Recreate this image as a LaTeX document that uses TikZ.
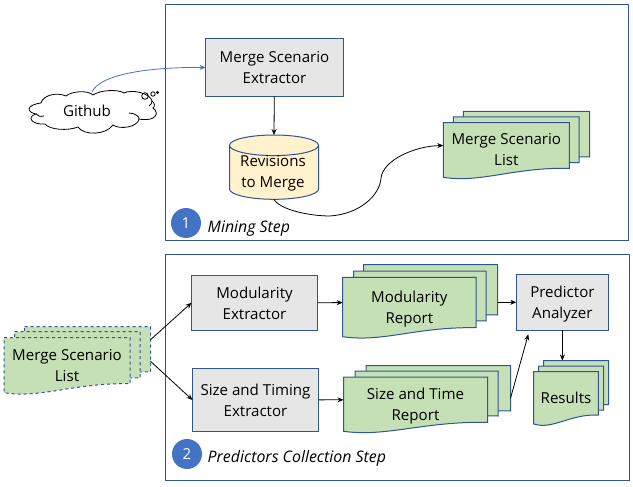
\documentclass[tikz,border=0pt]{standalone}
\usepackage{fontspec}
\setmainfont{Open Sans}
\usetikzlibrary{arrows.meta,fit}
\definecolor{frameblue}{HTML}{2F5597}
\definecolor{tipblue}{HTML}{4472C4}
\definecolor{sheetgreen}{HTML}{C5E0B4}
\definecolor{boxgrey}{HTML}{E6E6E6}
\definecolor{dbcream}{HTML}{FFF2CC}
\tikzset{
  stepframe/.style={draw=frameblue,line width=1pt},
  toolbox/.style={draw=frameblue,fill=boxgrey,line width=1pt,inner sep=0pt,outer sep=0pt},
  sheet/.style={draw=frameblue,fill=sheetgreen,line width=1pt},
  dashsheet/.style={sheet,dashed},
  sheetbox/.style={inner sep=0pt,outer sep=0pt},
  boxtext/.style={align=center,inner sep=0pt},
  stepnum/.style={circle,fill=tipblue,text=white,minimum size=30pt,inner sep=0pt},
  steplabel/.style={font=\fontsize{15.9}{19}\selectfont\itshape,anchor=west,inner sep=0pt},
  arr/.style={-{Stealth[length=6pt,width=5pt]},line width=.8pt},
  cloudline/.style={line width=.8pt},
}
% name, left, top, right, bottom (right end), style
\newcommand{\docsheet}[6]{
  \path[#6] (#2,#3) -- (#4,#3) -- (#4,#5)
    .. controls ({#2+.55*(#4-#2)},#5-1) and ({#2+.3*(#4-#2)},#5+15) .. (#2,#5+9) -- cycle;
  \node[sheetbox,fit={(#2,#3) (#4,#5)}] (#1) {};
}
\begin{document}
\begin{tikzpicture}[x=1pt,y=-1pt,font=\fontsize{15.1}{21}\selectfont]
  \useasboundingbox (0,0) rectangle (633,487);
  % step frames
  \draw[stepframe] (165.5,4.7) rectangle (628.5,240);
  \draw[stepframe] (165.5,254.5) rectangle (629,480);

  % cloud
  \draw[fill=white,cloudline] (41,103)
    .. controls (43,95) and (57,92) .. (66,96)
    .. controls (72,91) and (88,90) .. (93,95)
    .. controls (100,90) and (118,89) .. (124,93)
    .. controls (132,89) and (150,93) .. (152,101)
    .. controls (155,103) and (155,107) .. (153,108)
    .. controls (160,113) and (156,122) .. (139,119)
    .. controls (138,127) and (120,130) .. (113,125)
    .. controls (106,135) and (84,136) .. (78,127)
    .. controls (68,131) and (50,130) .. (45,124)
    .. controls (32,125) and (26,117) .. (36,114)
    .. controls (26,112) and (26,105) .. (41,103) -- cycle;
  \draw[cloudline] (36,114) .. controls (38,116) and (40,117) .. (44,116);
  \draw[cloudline] (139,119) .. controls (140,117) and (135,113) .. (129,113);
  \draw[cloudline] (152,101) .. controls (152,103) and (151,105) .. (149,106);
  \node[boxtext] (github) at (87,110.5) {Github};
  \draw[cloudline] (145,96) circle (3.3);
  \draw[cloudline] (153,94) circle (2.2);
  \draw[cloudline] (157.5,92.5) circle (1);

  % mining step
  \node[toolbox,fit={(205.5,38.5) (343.5,96.5)}] (scenarioext) {};
  \node[boxtext] (scenarioexttext) at (scenarioext) {Merge Scenario\\Extractor};
  \draw[draw=frameblue,fill=dbcream,line width=1pt] (229.5,145.3) -- (229.5,189)
    arc[start angle=180,end angle=360,x radius=44.5,y radius=-10.3] -- (318.5,145.3)
    arc[start angle=0,end angle=180,x radius=44.5,y radius=-10.3]
    arc[start angle=180,end angle=360,x radius=44.5,y radius=-10.3];
  \node[sheetbox,fit={(229.5,135) (318.5,199.3)}] (revisions) {};
  \node[boxtext] (revisionstext) at (273,173.5) {Revisions\\to Merge};
  \docsheet{listb}{463.3}{111.3}{589.7}{157}{sheet}
  \docsheet{listm}{453.3}{117}{579}{162.7}{sheet}
  \docsheet{list}{443.3}{122.7}{569.3}{168.3}{sheet}
  \node[boxtext,yshift=-4.5pt] (listtext) at (list) {Merge Scenario\\List};
  \node[stepnum] (numone) at (186,223) {1};
  \node[steplabel] (mining) at (207.5,229) {Mining Step};

  % predictors step
  \docsheet{inputb}{24.5}{326.5}{150.5}{372}{dashsheet}
  \docsheet{inputm}{14.5}{331.5}{140}{378}{dashsheet}
  \docsheet{input}{4}{337.7}{130}{383.7}{dashsheet}
  \node[boxtext,yshift=-4.5pt] (inputtext) at (input) {Merge Scenario\\List};
  \node[toolbox,fit={(191.5,275.3) (317.5,330.3)}] (modext) {};
  \node[boxtext,yshift=-1pt] (modexttext) at (modext) {Modularity\\Extractor};
  \node[toolbox,fit={(192.5,368.3) (318.5,431.7)}] (sizeext) {};
  \node[boxtext] (sizeexttext) at (sizeext) {Size and Timing\\Extractor};
  \docsheet{modrepb}{363.5}{264.5}{497.5}{315}{sheet}
  \docsheet{modrepm}{353.5}{271}{486}{321}{sheet}
  \docsheet{modrep}{342.7}{277.3}{476}{327.7}{sheet}
  \node[boxtext,yshift=-6.5pt] (modreptext) at (modrep) {Modularity\\Report};
  \docsheet{sizerepb}{366}{365.5}{510.5}{411}{sheet}
  \docsheet{sizerepm}{355}{371}{498}{416}{sheet}
  \docsheet{sizerep}{343.5}{377}{487.5}{422.3}{sheet}
  \node[boxtext,yshift=-6.5pt] (sizereptext) at (sizerep) {Size and Time\\Report};
  \node[toolbox,fit={(516.3,274.3) (608.5,330.3)}] (analyzer) {};
  \node[boxtext,yshift=-2pt] (analyzertext) at (analyzer) {Predictor\\Analyzer};
  \docsheet{resultsb}{543.7}{360.5}{608.5}{404.5}{sheet}
  \docsheet{resultsm}{538.7}{366}{603.5}{410}{sheet}
  \docsheet{results}{533.7}{371.7}{598.3}{415}{sheet}
  \node[boxtext,yshift=-4.5pt] (resultstext) at (results) {Results};
  \node[stepnum] (numtwo) at (187,454) {2};
  \node[steplabel] (predictors) at (207.5,458) {Predictors Collection Step};

  % connectors
  \draw[arr,tipblue] (92,92) .. controls (100,74) and (150,67) .. (scenarioext.west);
  \draw[arr] (scenarioext) -- (revisions.north);
  \draw[arr] (revisions.south) .. controls (280,210) and (310,216) .. (330,216)
    .. controls (360,214) and (380,195) .. (381,178)
    .. controls (383,160) and (415,146) .. (list.west);
  \draw[arr] ([yshift=9.5pt]inputb.east) -- (modext.west);
  \draw[arr] ([yshift=-12pt]inputb.east) -- (sizeext.west);
  \draw[arr] (modext) -- (modrep);
  \draw[arr] (sizeext) -- (sizerep);
  \draw[arr] (modrepb.east |- analyzer.west) -- (analyzer.west);
  \draw[arr] ([yshift=-10pt]sizerepb.east) -- ([xshift=12pt,yshift=-4pt]analyzer.south west);
  \draw[arr] (analyzer.south) -- (analyzer.south |- resultsb.north);
\end{tikzpicture}
\end{document}
